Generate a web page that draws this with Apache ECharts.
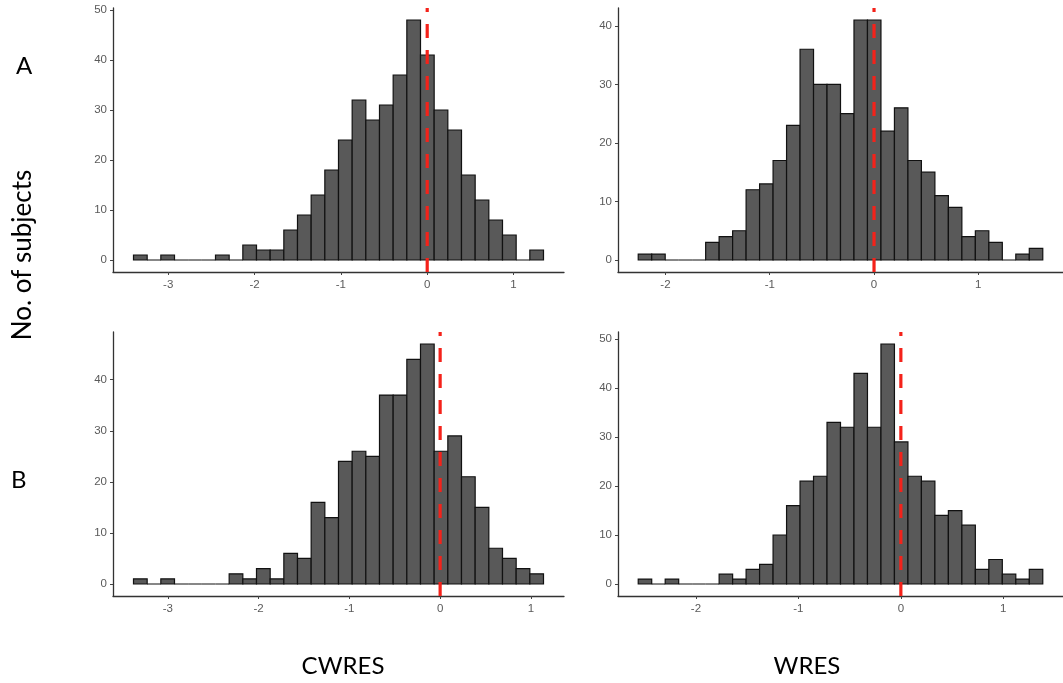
<!DOCTYPE html>
<html>
<head>
<meta charset="utf-8">
<script src="https://cdn.jsdelivr.net/npm/echarts@6/dist/echarts.min.js"></script>
<style>
html,body{margin:0;padding:0;background:#fff;}
#chart{width:1063px;height:683px;}
</style>
</head>
<body>
<div id="chart"></div>
<script>
// ---- Data (histogram counts, 30 bins each) ----
// Panel A, CWRES
const cwresA_start = -3.402;
const cwresA_width = 0.1583;
const cwresA_counts = [1,0,1,0,0,0,1,0,3,2,2,6,9,13,18,24,32,28,31,37,48,41,30,26,17,12,8,5,0,2];
// Panel A, WRES
const wresA_start = -2.261;
const wresA_width = 0.1293;
const wresA_counts = [1,1,0,0,0,3,4,5,12,13,17,23,36,30,30,25,41,41,22,26,17,15,11,9,4,5,3,0,1,2];
// Panel B, CWRES
const cwresB_start = -3.379;
const cwresB_width = 0.1506;
const cwresB_counts = [1,0,1,0,0,0,0,2,1,3,1,6,5,16,13,24,26,25,37,37,44,47,26,29,21,15,7,5,3,2];
// Panel B, WRES
const wresB_start = -2.563;
const wresB_width = 0.1316;
const wresB_counts = [1,0,1,0,0,0,2,1,3,4,10,16,21,22,33,32,43,32,49,29,22,21,14,15,12,3,5,2,1,3];

// Tick values
const xTicksCW = [-3,-2,-1,0,1];
const xTicksW = [-2,-1,0,1];
const yTicksAL = [0,10,20,30,40,50];
const yTicksAR = [0,10,20,30,40];
const yTicksBL = [0,10,20,30,40];
const yTicksBR = [0,10,20,30,40,50];

// Labels
const rowLabels = ['A','B'];
const yTitle = 'No. of subjects';
const colTitles = ['CWRES','WRES'];
const refLine = 0;

// ---- Chart ----
const panels = [
  {start: cwresA_start, width: cwresA_width, counts: cwresA_counts, xt: xTicksCW, yt: yTicksAL, grid:{left:113, top:8}},
  {start: wresA_start,  width: wresA_width,  counts: wresA_counts,  xt: xTicksW,  yt: yTicksAR, grid:{left:618, top:8}},
  {start: cwresB_start, width: cwresB_width, counts: cwresB_counts, xt: xTicksCW, yt: yTicksBL, grid:{left:113, top:332}},
  {start: wresB_start,  width: wresB_width,  counts: wresB_counts,  xt: xTicksW,  yt: yTicksBR, grid:{left:618, top:332}}
];

const grids = [], xAxes = [], yAxes = [], series = [];
const axisFont = {fontFamily:'Liberation Sans, Arial, sans-serif', fontSize:11.5, color:'#5a5a5a'};

panels.forEach((p, i) => {
  const n = p.counts.length;
  const xLo = p.start, xHi = p.start + n * p.width;
  const xPad = (xHi - xLo) * 0.05;
  const cMax = Math.max(...p.counts);
  const yPad = cMax * 0.05;
  grids.push({left:p.grid.left, top:p.grid.top, width:451, height:264, containLabel:false});
  xAxes.push({
    type:'value', gridIndex:i, min: xLo - xPad, max: xHi + xPad,
    splitLine:{show:false},
    axisLine:{show:true, onZero:false, lineStyle:{color:'#333', width:1.3}},
    axisTick:{show:true, length:3, customValues:p.xt, lineStyle:{color:'#444'}},
    axisLabel:Object.assign({show:true, margin:7, customValues:p.xt, formatter: v => String(v)}, axisFont)
  });
  yAxes.push({
    type:'value', gridIndex:i, min: -yPad, max: cMax + yPad,
    splitLine:{show:false},
    axisLine:{show:true, onZero:false, lineStyle:{color:'#333', width:1.3}},
    axisTick:{show:true, length:3, customValues:p.yt, lineStyle:{color:'#444'}},
    axisLabel:Object.assign({show:true, margin:6, customValues:p.yt, formatter: v => String(v)}, axisFont)
  });
  const binData = p.counts.map((c, k) => [p.start + k * p.width, p.start + (k + 1) * p.width, c]);
  series.push({
    type:'custom', xAxisIndex:i, yAxisIndex:i, data: binData, silent:true,
    renderItem: (params, api) => {
      const a = api.coord([api.value(0), 0]);
      const b = api.coord([api.value(1), api.value(2)]);
      return {
        type:'rect',
        shape:{x:a[0], y:b[1], width:b[0]-a[0], height:a[1]-b[1]},
        style:{fill:'#595959', stroke:'#111', lineWidth:1.2}
      };
    },
    z:2
  });
  series.push({
    type:'line', xAxisIndex:i, yAxisIndex:i, silent:true, symbol:'none',
    data:[[refLine, -yPad],[refLine, cMax + yPad]],
    lineStyle:{color:'#f4221a', width:3.2, type:[14,12]},
    z:5
  });
});

const graphics = [
  {type:'text', left:16, top:54, style:{text:rowLabels[0], font:'24px Lato, "Open Sans", sans-serif', fill:'#000'}},
  {type:'text', left:11, top:468, style:{text:rowLabels[1], font:'24px Lato, "Open Sans", sans-serif', fill:'#000'}},
  {type:'text', x:23, y:255, rotation:Math.PI/2, style:{text:yTitle, font:'26px Lato, "Open Sans", sans-serif', fill:'#000', align:'center', verticalAlign:'middle'}},
  {type:'text', x:343, y:666, style:{text:colTitles[0], font:'24px Lato, "Open Sans", sans-serif', fill:'#000', align:'center', verticalAlign:'middle'}},
  {type:'text', x:807, y:666, style:{text:colTitles[1], font:'24px Lato, "Open Sans", sans-serif', fill:'#000', align:'center', verticalAlign:'middle'}}
];

const chart = echarts.init(document.getElementById('chart'), null, {renderer:'canvas'});
chart.setOption({
  animation:false,
  backgroundColor:'#fff',
  grid:grids, xAxis:xAxes, yAxis:yAxes, series:series,
  graphic:graphics
});
</script>
</body>
</html>
